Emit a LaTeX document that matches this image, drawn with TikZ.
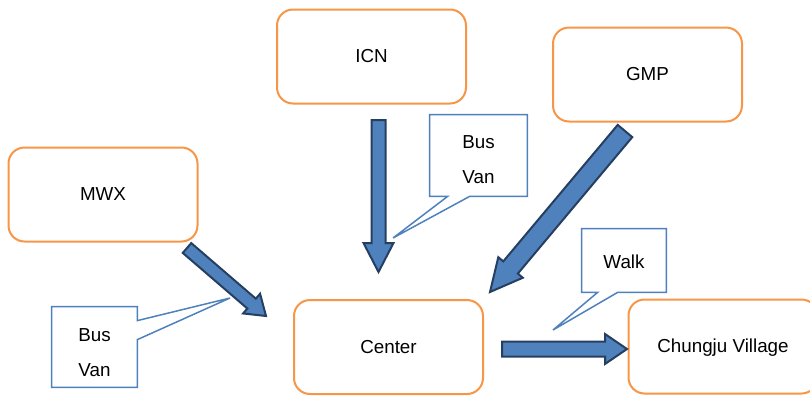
\documentclass[tikz,border=0pt]{standalone}
\usepackage{fontspec}
\setmainfont{Liberation Sans}
\usetikzlibrary{calc}

\definecolor{boxorange}{HTML}{F79646}
\definecolor{arrowblue}{HTML}{4F81BD}
\definecolor{arrowline}{HTML}{263F61}
\definecolor{calloutblue}{HTML}{4F81BD}

% block arrow: from, to, shaft half width, head half width, head length
\newcommand{\blockarrow}[5]{%
	\coordinate (ba-h) at ($(#2)!#5!(#1)$);
	\draw[blockarrow] ($(#1)!#3!90:(#2)$) -- ($(ba-h)!#3!-90:(#1)$) -- ($(ba-h)!#4!-90:(#1)$) -- (#2)
		-- ($(ba-h)!#4!90:(#1)$) -- ($(ba-h)!#3!90:(#1)$) -- ($(#1)!#3!-90:(#2)$) -- cycle;
}

\begin{document}
\begin{tikzpicture}
	[x=0.5pt,y=-0.5pt,font=\fontsize{9.4}{17.5}\selectfont,
	place/.style={draw=boxorange, line width=1pt, rounded corners=8pt, fill=white, minimum width=94.5pt, minimum height=47pt, align=center, text depth=0.5pt},
	calltext/.style={inner sep=0pt, align=center},
	callline/.style={draw=calloutblue, line width=0.75pt, fill=white},
	blockarrow/.style={draw=arrowline, fill=arrowblue, line width=1pt, line join=miter}];

	\useasboundingbox (0,0) rectangle (810,397);

	%Places
	\node[place] (icn) at (371.5,56.5) {ICN};
	\node[place] (gmp) at (647.5,74.5) {GMP};
	\node[place] (mwx) at (103,194.5) {MWX};
	\node[place] (center) at (388.5,347) {Center};
	\node[place] (chungju) at (723,346.5) {Chungju Village};

	%Arrows
	\coordinate (icn-a) at (378.5,120);
	\coordinate (icn-b) at (378.5,272);
	\coordinate (gmp-a) at (625,131);
	\coordinate (gmp-b) at (490,292);
	\coordinate (mwx-a) at (187,248);
	\coordinate (mwx-b) at (266,316);
	\coordinate (walk-a) at (502,349);
	\coordinate (walk-b) at (627,349);
	\blockarrow{icn-a}{icn-b}{3.5pt}{7.5pt}{14.5pt}
	\blockarrow{gmp-a}{gmp-b}{4.75pt}{8pt}{16pt}
	\blockarrow{mwx-a}{mwx-b}{3.25pt}{6.5pt}{9.5pt}
	\blockarrow{walk-a}{walk-b}{3.75pt}{7.5pt}{11pt}

	%Callouts
	\coordinate (tip-a) at (393,238);
	\coordinate (tip-b) at (230,298);
	\coordinate (tip-c) at (553,330);
	\node[calltext, minimum width=48.5pt, minimum height=40.5pt] (bus-a) at (478.5,155.5) {};
	\draw[callline] (bus-a.south east) -- (bus-a.north east) -- (bus-a.north west) -- (bus-a.south west)
		-- ++(18,0) -- (tip-a) -- ($(bus-a.south west)+(40,0)$) -- cycle;
	\node[calltext] at ($(bus-a)+(0,4)$) {Bus\\Van};

	\node[calltext, minimum width=42.5pt, minimum height=40pt] (bus-b) at (94.5,347) {};
	\draw[callline] (bus-b.north east) -- (bus-b.north west) -- (bus-b.south west) -- (bus-b.south east)
		-- ($(bus-b.north east)+(0,33)$) -- (tip-b) -- ($(bus-b.north east)+(0,14)$) -- cycle;
	\node[calltext] at ($(bus-b)+(0,6)$) {Bus\\Van};

	\node[calltext, minimum width=42pt, minimum height=31.5pt] (walk) at (624,260.5) {};
	\draw[callline] (walk.south east) -- (walk.north east) -- (walk.north west) -- (walk.south west)
		-- ++(16,0) -- (tip-c) -- ($(walk.south west)+(36,0)$) -- cycle;
	\node[calltext] at ($(walk)+(0,1)$) {Walk};
\end{tikzpicture}
\end{document}
